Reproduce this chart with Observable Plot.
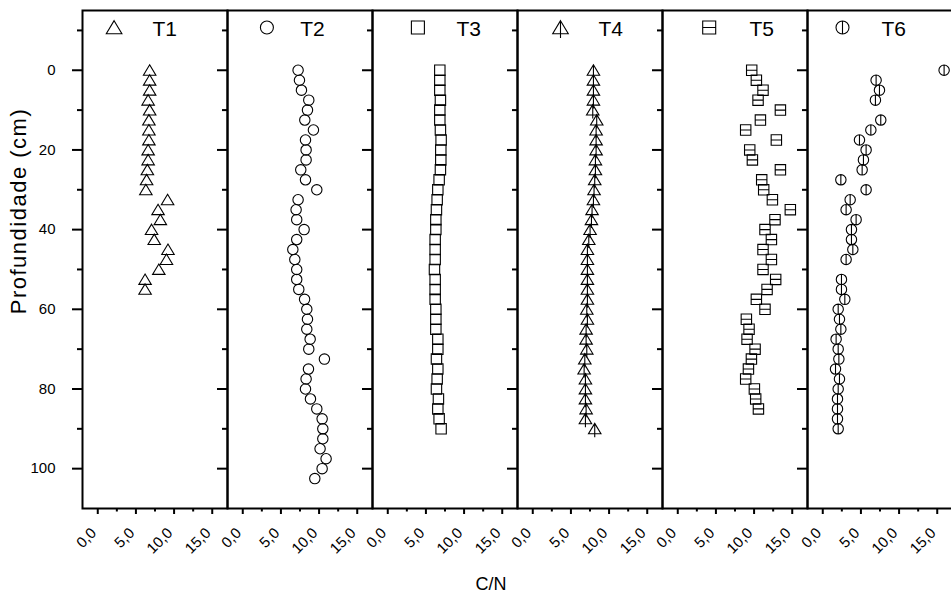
<!DOCTYPE html>
<html><head><meta charset="utf-8">
<script src="https://cdn.jsdelivr.net/npm/d3@7"></script>
<script src="https://cdn.jsdelivr.net/npm/@observablehq/plot@0.6"></script>
<style>
html,body{margin:0;padding:0;background:#fff;overflow:hidden;}
#wrap{position:relative;width:951px;height:606px;font-family:"Liberation Sans",Arial,sans-serif;color:#000;}
#ylab{position:absolute;left:19px;top:211px;transform:translate(-50%,-50%) rotate(-90deg);font-size:22px;letter-spacing:1.5px;white-space:nowrap;}
#xlab{position:absolute;left:491px;top:584px;transform:translate(-50%,-50%);font-size:18px;white-space:nowrap;}
</style></head><body>
<div id="wrap"><div id="chart"></div><div id="ylab">Profundidade (cm)</div><div id="xlab">C/N</div></div>
<script>
const seriesNames = ["T1","T2","T3","T4","T5","T6"];

const depthT1 = [0,2.5,5,7.5,10,12.5,15,17.5,20,22.5,25,27.5,30,32.5,35,37.5,40,42.5,45,47.5,50,52.5,55];
const cnT1 = [6.8,6.8,6.8,6.6,6.8,6.7,6.7,6.7,6.6,6.6,6.5,6.4,6.3,9.15,7.9,8.2,7.05,7.4,9.2,9.0,8.0,6.2,6.2];

const depthT2 = [0,2.5,5,7.5,10,12.5,15,17.5,20,22.5,25,27.5,30,32.5,35,37.5,40,42.5,45,47.5,50,52.5,55,57.5,60,62.5,65,67.5,70,72.5,75,77.5,80,82.5,85,87.5,90,92.5,95,97.5,100,102.5];
const cnT2 = [7.25,7.43,7.69,8.65,8.48,8.13,9.26,8.22,8.3,8.3,7.6,8.22,9.7,7.25,6.99,7.07,8.04,7.07,6.56,6.82,7.07,7.07,7.34,8.1,8.39,8.48,8.39,8.83,8.65,10.7,8.61,8.3,8.22,8.87,9.7,10.4,10.49,10.49,10.13,10.92,10.4,9.44];

const depthT3 = [0,2.5,5,7.5,10,12.5,15,17.5,20,22.5,25,27.5,30,32.5,35,37.5,40,42.5,45,47.5,50,52.5,55,57.5,60,62.5,65,67.5,70,72.5,75,77.5,80,82.5,85,87.5,90];
const cnT3 = [6.82,6.82,6.82,6.9,6.82,6.82,6.9,6.99,6.95,6.95,6.9,6.73,6.56,6.47,6.38,6.3,6.3,6.21,6.21,6.21,6.12,6.21,6.21,6.21,6.3,6.3,6.3,6.56,6.56,6.38,6.56,6.47,6.38,6.64,6.56,6.73,6.99];

const depthT4 = [0,2.5,5,7.5,10,12.5,15,17.5,20,22.5,25,27.5,30,32.5,35,37.5,40,42.5,45,47.5,50,52.5,55,57.5,60,62.5,65,67.5,70,72.5,75,77.5,80,82.5,85,87.5,90];
const cnT4 = [7.95,7.95,7.95,7.95,7.86,8.38,8.3,8.3,8.3,8.21,8.21,8.12,8.03,7.95,7.77,7.69,7.51,7.34,7.16,7.16,7.16,7.16,7.16,7.16,7.08,7.16,6.99,6.99,7.08,6.82,6.73,6.9,6.9,6.9,6.99,6.9,8.12];

const depthT5 = [0,2.5,5,7.5,10,12.5,15,17.5,20,22.5,25,27.5,30,32.5,35,37.5,40,42.5,45,47.5,50,52.5,55,57.5,60,62.5,65,67.5,70,72.5,75,77.5,80,82.5,85];
const cnT5 = [9.69,10.3,11.17,10.52,13.45,10.83,8.9,12.92,9.43,9.78,13.45,11.0,11.26,12.4,14.75,12.74,11.43,12.27,11.17,12.27,11.17,12.83,11.7,10.3,11.43,8.99,9.34,9.08,10.13,9.65,9.26,8.9,10.04,10.21,10.57];

const depthT6 = [0,2.5,5,7.5,12.5,15,17.5,20,22.5,25,27.5,30,32.5,35,37.5,40,42.5,45,47.5,52.5,55,57.5,60,62.5,65,67.5,70,72.5,75,77.5,80,82.5,85,87.5,90];
const cnT6 = [15.9,6.99,7.43,6.9,7.6,6.3,4.81,5.68,5.33,5.16,2.37,5.68,3.59,3.06,4.37,3.76,3.76,3.94,3.06,2.45,2.45,2.89,2.02,2.19,2.37,1.75,2.02,2.11,1.67,2.19,2.02,1.93,1.93,1.93,2.02];

const majorXTicks = [0,5,10,15];
const minorXTicks = [2.5,7.5,12.5];
const majorYTicks = [0,20,40,60,80,100];
const minorYTicks = [-10,10,30,50,70,90];

// custom hollow symbols
const rad = size => Math.sqrt(size / Math.PI);
const symTri = {draw(c, s){const r = rad(s); c.moveTo(0,-1.05*r); c.lineTo(1.2*r,0.95*r); c.lineTo(-1.2*r,0.95*r); c.closePath();}};
const symCircle = {draw(c, s){const r = rad(s); c.moveTo(r,0); c.arc(0,0,r,0,2*Math.PI);}};
const symSquare = {draw(c, s){const r = rad(s); c.rect(-r,-r,2*r,2*r);}};
const symTriLine = {draw(c, s){const r = rad(s); c.moveTo(0,-1.05*r); c.lineTo(1.2*r,0.95*r); c.lineTo(-1.2*r,0.95*r); c.closePath(); c.moveTo(0,-1.05*r); c.lineTo(0,1.6*r);}};
const symSquareLine = {draw(c, s){const r = rad(s); c.rect(-r,-r,2*r,2*r); c.moveTo(-r,0); c.lineTo(r,0);}};
const symCircleLine = {draw(c, s){const r = rad(s); c.moveTo(r,0); c.arc(0,0,r,0,2*Math.PI); c.moveTo(0,-r); c.lineTo(0,r);}};

const series = [
  {name: "T1", depth: depthT1, cn: cnT1, symbol: symTri},
  {name: "T2", depth: depthT2, cn: cnT2, symbol: symCircle},
  {name: "T3", depth: depthT3, cn: cnT3, symbol: symSquare},
  {name: "T4", depth: depthT4, cn: cnT4, symbol: symTriLine},
  {name: "T5", depth: depthT5, cn: cnT5, symbol: symSquareLine},
  {name: "T6", depth: depthT6, cn: cnT6, symbol: symCircleLine}
];
// legend layout (pixel offsets inside each panel)
const legendSymbolDx = [31.6, 39.4, 45.4, 43, 46.7, 35];
const legendTextDx = [70, 72.7, 84, 81, 87, 74];

const marks = [];
series.forEach((s, i) => {
  const rows = s.cn.map((v, j) => ({series: s.name, cn: v, depth: s.depth[j]}));
  marks.push(Plot.dot(rows, {x: "cn", y: "depth", fx: "series", symbol: s.symbol, r: 5.2, stroke: "black", fill: "none", strokeWidth: 1.1}));
  marks.push(Plot.dot([s.name], {fx: d => d, frameAnchor: "top-left", dx: legendSymbolDx[i], dy: 17, symbol: s.symbol, r: 6.5, stroke: "black", fill: "none", strokeWidth: 1.1}));
  marks.push(Plot.text([s.name], {fx: d => d, text: d => d, frameAnchor: "top-left", dx: legendTextDx[i], dy: 19, textAnchor: "start", lineAnchor: "middle", fontSize: 21}));
});

const fmt = d => d.toFixed(1).replace(".", ",");

const chart = Plot.plot({
  width: 952, height: 606,
  marginLeft: 82, marginRight: 0, marginTop: 10, marginBottom: 98,
  style: {fontFamily: '"Liberation Sans", Arial, sans-serif', background: "white", maxWidth: "none", color: "black"},
  x: {domain: [-2, 17], label: null, axis: null},
  y: {domain: [-15, 110], reverse: true, label: null, axis: null},
  fx: {domain: seriesNames, padding: 0, axis: null, label: null},
  marks: [
    Plot.axisX({ticks: majorXTicks, tickSize: 6, strokeWidth: 2, fill: "none", tickFormat: () => "", label: null}),
    Plot.axisX({ticks: minorXTicks, tickSize: 3.5, strokeWidth: 2, fill: "none", tickFormat: () => "", label: null}),
    Plot.axisY({ticks: majorYTicks, tickSize: 10, strokeWidth: 2, fill: "none", tickFormat: () => "", facetAnchor: null, label: null}),
    Plot.axisY({ticks: minorYTicks, tickSize: 5, strokeWidth: 2, fill: "none", tickFormat: () => "", facetAnchor: null, label: null}),
    // tick labels
    Plot.text(majorXTicks, {x: d => d, text: fmt, frameAnchor: "bottom", dx: -4, dy: 22, rotate: -45, textAnchor: "end", lineAnchor: "middle", fontSize: 15}),
    Plot.text(majorYTicks, {y: d => d, text: d => String(d), fx: () => "T1", frameAnchor: "left", dx: -27, textAnchor: "end", lineAnchor: "middle", fontSize: 15}),
    ...marks,
    Plot.frame({stroke: "black", strokeWidth: 2})
  ]
});
document.getElementById("chart").appendChild(chart);
</script>
</body></html>
